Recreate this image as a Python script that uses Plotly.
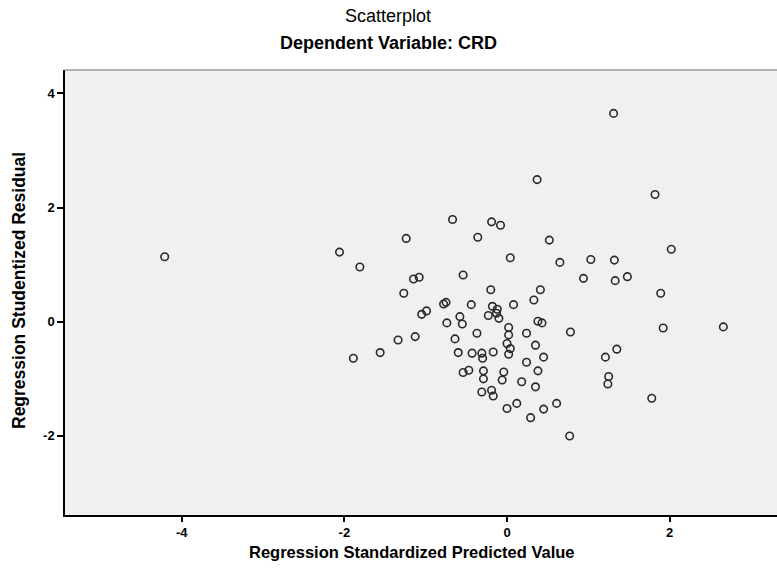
import plotly.graph_objects as go

# Regression Standardized Predicted Value (x) and Studentized Residual (y)
pred = [-4.21, -2.06, -1.81, -1.24, -1.27, -1.15, -1.08, -1.89, -1.56, -1.34,
        -1.13, -1.05, -0.99, -0.67, -0.36, -0.54, -0.19, -0.08, 0.04, -0.20,
        -0.78, -0.75, -0.44, -0.74, -0.58, -0.64, -0.37, -0.23, -0.12, -0.13,
        -0.10, -0.18, 0.08, 0.33, 0.41, 0.38, 0.43, 0.02, 0.02, 0.24,
        0.00, 0.04, 0.02, 0.35, -0.60, -0.43, -0.31, -0.30, -0.17, 0.45,
        0.24, 0.38, -0.54, -0.47, -0.29, -0.29, -0.04, -0.06, 0.18, 0.35,
        -0.31, -0.19, -0.17, 0.00, 0.12, 0.29, 0.45, 0.61, 0.77, 1.31,
        0.37, 1.82, 0.52, 0.65, 1.03, 1.32, 2.02, 0.94, 1.33, 1.48,
        1.89, 0.78, 1.92, 2.66, 1.35, 1.21, 1.25, 1.24, 1.78, -0.55]
resid = [1.14, 1.22, 0.96, 1.46, 0.50, 0.75, 0.78, -0.64, -0.54, -0.32,
         -0.26, 0.13, 0.19, 1.79, 1.48, 0.82, 1.75, 1.69, 1.12, 0.56,
         0.31, 0.34, 0.30, -0.02, 0.09, -0.30, -0.20, 0.11, 0.22, 0.15,
         0.06, 0.27, 0.30, 0.38, 0.56, 0.01, -0.02, -0.10, -0.23, -0.20,
         -0.38, -0.47, -0.57, -0.41, -0.54, -0.55, -0.55, -0.64, -0.53, -0.62,
         -0.71, -0.86, -0.89, -0.85, -0.86, -1.00, -0.88, -1.02, -1.05, -1.14,
         -1.23, -1.20, -1.30, -1.52, -1.43, -1.68, -1.53, -1.43, -2.00, 3.65,
         2.49, 2.23, 1.43, 1.04, 1.09, 1.08, 1.27, 0.76, 0.72, 0.79,
         0.50, -0.18, -0.11, -0.09, -0.48, -0.62, -0.96, -1.09, -1.34, -0.04]

x_ticks = [-4, -2, 0, 2]
x_tick_labels = ["-4", "-2", "0", "2"]
y_ticks = [-2, 0, 2, 4]
y_tick_labels = ["-2", "0", "2", "4"]

FONT = "Liberation Sans, Arial, sans-serif"
L, T, W, H = 65, 70, 712, 445

fig = go.Figure()
fig.add_trace(go.Scatter(
    x=pred, y=resid, mode="markers",
    marker=dict(symbol="circle-open", size=7.5, color="#2a2a2a", line=dict(width=1.6)),
    hoverinfo="x+y", showlegend=False,
))

tickfont = dict(size=13, family=FONT, color="black", weight="bold")

fig.update_layout(
    width=777, height=569,
    margin=dict(l=L, r=0, t=T, b=569 - T - H),
    paper_bgcolor="white",
    plot_bgcolor="#f0f0f0",
    font=dict(family=FONT, size=13, color="black"),
    xaxis=dict(range=[-5.436, 3.32], tickvals=x_ticks, ticktext=x_tick_labels,
               showgrid=False, zeroline=False,
               showline=True, linecolor="black", linewidth=1.5,
               ticks="outside", ticklen=5, tickcolor="black", tickwidth=1.5,
               ticklabelstandoff=0, tickfont=tickfont),
    yaxis=dict(range=[-3.385, 4.41], tickvals=y_ticks, ticktext=y_tick_labels,
               showgrid=False, zeroline=False,
               showline=True, linecolor="black", linewidth=1.5,
               ticks="outside", ticklen=6, tickcolor="black", tickwidth=1.5,
               tickfont=tickfont),
    shapes=[dict(type="line", xref="paper", yref="paper", x0=0, x1=1, y0=1, y1=1,
                 line=dict(color="#9a9a9a", width=1.5))],
    annotations=[
        dict(text="Scatterplot", xref="paper", yref="paper", x=(388 - L) / W, y=1 + (T - 16) / H,
             showarrow=False, xanchor="center", yanchor="middle",
             font=dict(size=18, family=FONT, color="black")),
        dict(text="<b>Dependent Variable: CRD</b>", xref="paper", yref="paper", x=(388 - L) / W,
             y=1 + (T - 43) / H, showarrow=False, xanchor="center", yanchor="middle",
             font=dict(size=18, family=FONT, color="black")),
        dict(text="<b>Regression Standardized Predicted Value</b>", xref="paper", yref="paper",
             x=(412 - L) / W, y=-(552 - T - H) / H, showarrow=False, xanchor="center", yanchor="middle",
             font=dict(size=16.5, family=FONT, color="black")),
        dict(text="<b>Regression Studentized Residual</b>", xref="paper", yref="paper",
             x=-(L - 19) / W, y=(T + H - 291) / H, showarrow=False, xanchor="center", yanchor="middle",
             textangle=-90, font=dict(size=17.5, family=FONT, color="black")),
    ],
)

fig.write_html("out.html", config={"displayModeBar": False},
               post_script="document.body.style.margin='0px';document.body.style.overflow='hidden';")
